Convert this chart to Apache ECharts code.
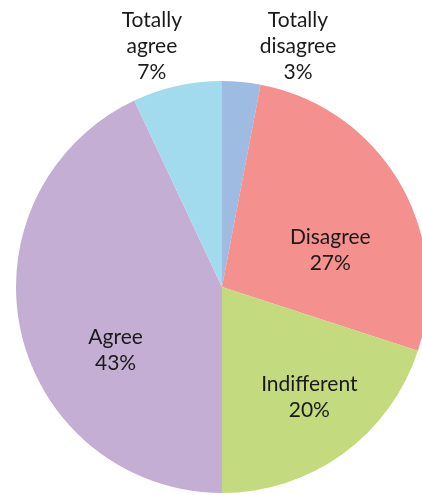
<!DOCTYPE html>
<html>
<head>
<meta charset="utf-8">
<script src="https://cdn.jsdelivr.net/npm/echarts@6/dist/echarts.min.js"></script>
<style>
html,body{margin:0;padding:0;background:#fff;}
#chart{width:422px;height:495px;}
</style>
</head>
<body>
<div id="chart"></div>
<script>
const categories = ['Totally disagree', 'Disagree', 'Indifferent', 'Agree', 'Totally agree'];
const labelNames = ['Totally\ndisagree', 'Disagree', 'Indifferent', 'Agree', 'Totally\nagree'];
const values = [3, 27, 20, 43, 7];
const colors = ['#9ebbe1', '#f4908e', '#c3da7e', '#c4aed4', '#a3dbee'];
const labelOffsets = [[66, -135], [17, 17], [25, 24], [-3, 40], [-47, -137]];

const chart = echarts.init(document.getElementById('chart'));
chart.setOption({
  animation: false,
  series: [{
    type: 'pie',
    center: [222, 287],
    radius: [0, 206],
    startAngle: 90,
    clockwise: true,
    avoidLabelOverlap: false,
    label: {
      show: true,
      position: 'inside',
      color: '#1a1a1a',
      fontFamily: 'Lato',
      fontSize: 21,
      lineHeight: 26,
      align: 'center',
      formatter: p => labelNames[p.dataIndex] + '\n' + p.value + '%'
    },
    labelLine: { show: false },
    emphasis: { disabled: true },
    itemStyle: { borderWidth: 0 },
    data: categories.map((c, i) => ({
      name: c,
      value: values[i],
      itemStyle: { color: colors[i] },
      label: { offset: labelOffsets[i] }
    }))
  }]
});
</script>
</body>
</html>
